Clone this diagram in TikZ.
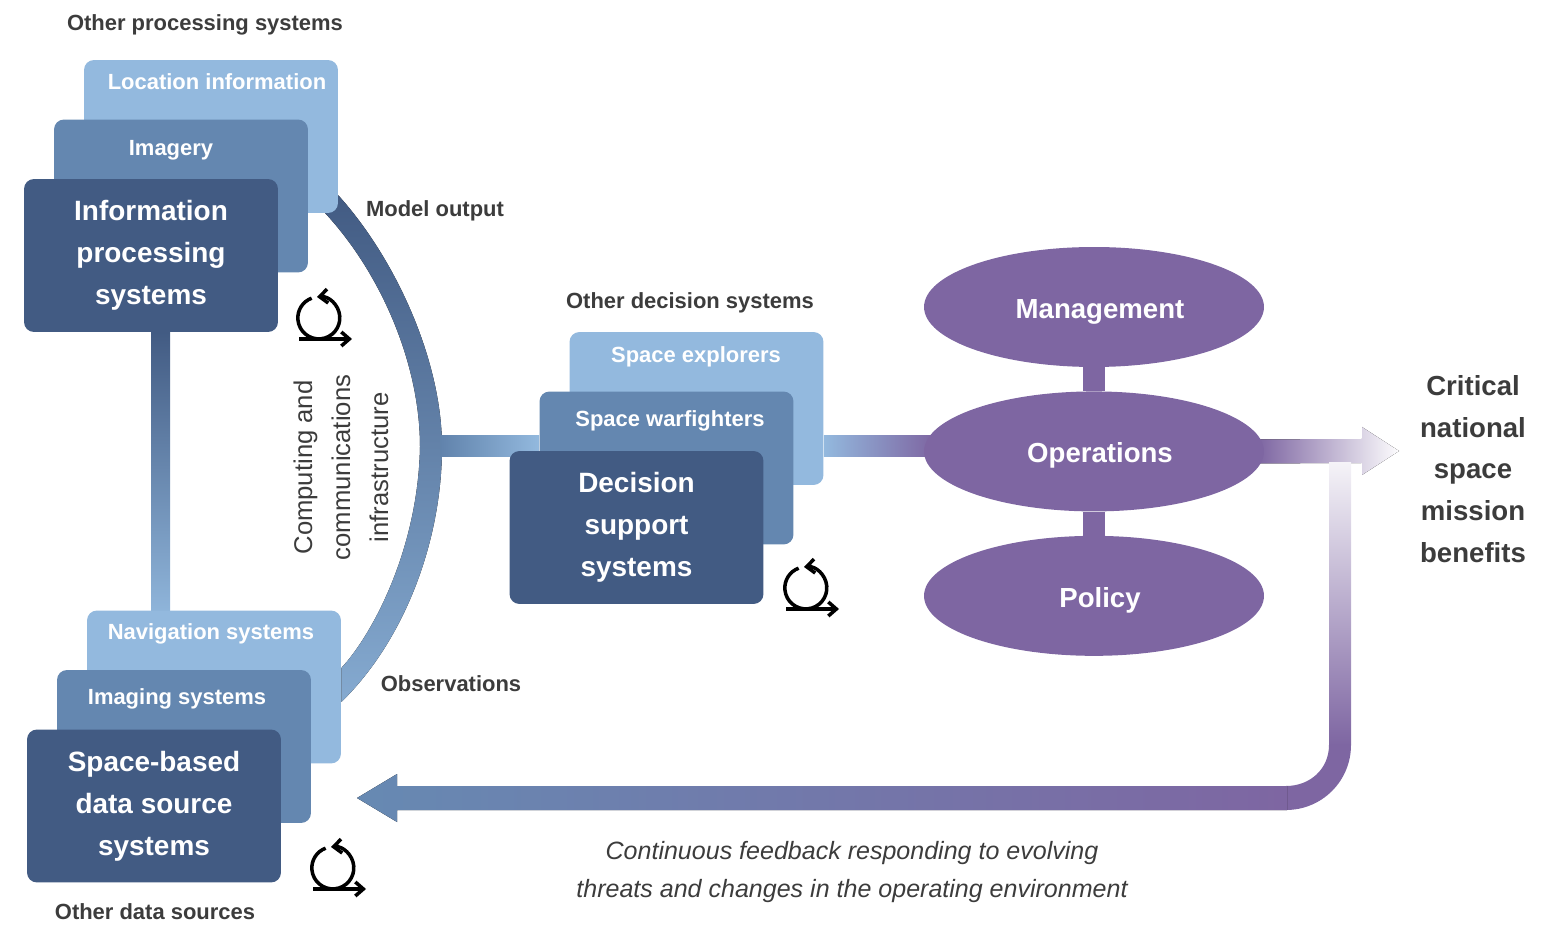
\documentclass[tikz,border=0pt]{standalone}
\usepackage{fontspec}
\setmainfont{Liberation Sans}
\usepackage{tikz}
\usetikzlibrary{arrows,arrows.meta,shapes,shapes.geometric,positioning,calc,backgrounds,shadings}
\definecolor{darkblue}{HTML}{425B83}
\definecolor{midblue}{HTML}{6487B0}
\definecolor{lightblue}{HTML}{93B9DE}
\definecolor{spacepurple}{HTML}{7E66A2}
\definecolor{labelgray}{HTML}{3C3C3C}
\tikzset{
	box/.style={rectangle,rounded corners=2mm,inner sep=0pt,minimum width=5.08cm,minimum height=3.06cm},
	light box/.style={box,fill=lightblue},
	mid box/.style={box,fill=midblue},
	dark box/.style={box,fill=darkblue,text=white,align=center,font=\fontsize{15.9}{23.8}\selectfont\bfseries},
	box text/.style={text=white,font=\fontsize{12.5}{15}\selectfont\bfseries,inner sep=0pt},
	side text/.style={text=labelgray,font=\fontsize{12.5}{15}\selectfont\bfseries,inner sep=0pt},
	role node/.style={ellipse,fill=spacepurple,text=white,inner sep=0pt,minimum width=6.8cm,minimum height=2.4cm,text height=13.1pt,text depth=0pt,execute at begin node=\hspace*{.24cm},font=\fontsize{15.7}{19}\selectfont\bfseries},
	cycleicon/.pic={
		\draw[{Straight Barb[length=1.6mm,width=2.8mm,quick]}-,line width=2pt] (-2,-21) arc[start angle=95,end angle=-250,radius=.42cm];
		\draw[-{Straight Barb[length=1.6mm,width=2.8mm]},line width=2pt] (-20,21) -- (33,21);
	}
}

\begin{document}
\begin{tikzpicture}[x=0.02cm,y=-0.02cm]
	\useasboundingbox (0,0) rectangle (1556,925);

	\node[light box] (location) at (211,136.5) {};
	\node[mid box] (imagery) at ($(location)+(-30,59.5)$) {};
	\node[dark box] (info) at ($(imagery)+(-30,59.5)$) {Information\\processing\\systems};
	\node[box text] (locationtext) at (217,82) {Location information};
	\node[box text] (imagerytext) at (171,150) {Imagery};

	\node[light box] (nav) at (214,687) {};
	\node[mid box] (imaging) at ($(nav)+(-30,59.5)$) {};
	\node[dark box] (source) at ($(imaging)+(-30,59.5)$) {Space-based\\data source\\systems};
	\node[box text] (navtext) at (211,634) {Navigation systems};
	\node[box text] (imagingtext) at (177,699) {Imaging systems};

	\node[light box] (explorers) at (696.5,408.5) {};
	\node[mid box] (warfighters) at ($(explorers)+(-30,59.5)$) {};
	\node[dark box] (decision) at ($(warfighters)+(-30,59.5)$) {Decision\\support\\systems};
	\node[box text] (explorerstext) at (696,357) {Space explorers};
	\node[box text] (warfighterstext) at (670,421) {Space warfighters};

	\node[role node] (management) at (1094,307) {Management};
	\node[role node] (operations) [below=0.475cm of management] {Operations};
	\node[role node] (policy) [below=0.475cm of operations] {Policy};

	\node[side text] (otherprocessing) at (205,25) {Other processing systems};
	\node[side text] (otherdata) at (155,912) {Other data sources};
	\node[side text] (otherdecision) at (690,303) {Other decision systems};
	\node[side text] (model) at (435,211) {Model output};
	\node[side text] (observations) at (451,684) {Observations};
	\node[text=labelgray,align=center,font=\fontsize{15.7}{23.8}\selectfont\bfseries,inner sep=0pt] (benefits) at (1473,469) {Critical\\national\\space\\mission\\benefits};
	\node[text=labelgray,align=center,rotate=90,font=\fontsize{14.6}{21.6}\selectfont,inner sep=0pt] (infrastructure) at (341,467.5) {Computing and\\communications\\infrastructure};
	\node[text=labelgray,align=center,font=\fontsize{14.25}{21.5}\selectfont\itshape,inner sep=0pt] (feedback) at (852,872) {Continuous feedback responding to evolving\\threats and changes in the operating environment};

	\coordinate (archub) at (440,436);
	\coordinate (benefitstip) at (1399,451);
	\coordinate (feedbacktip) at (357,798);
	\coordinate (feedbackcorner) at (1351,745);

	\begin{scope}[on background layer]
		\fill[top color=darkblue,bottom color=lightblue!90!midblue] (info.south) rectangle ($(nav.north)+(-44,0)$);
		\fill[top color=darkblue,bottom color=lightblue!70!midblue]
			($(location.south east)+(0,-18)$) .. controls (395,258) and (442,360) .. (442,447)
			.. controls (442,540) and (405,640) .. ($(nav.east)+(0,15)$)
			-- ($(nav.east)+(0,-19)$) .. controls (372,635) and (418,550) .. (420,447)
			.. controls (420,360) and (378,270) .. ($(location.south east)+(-13,0)$) -- cycle;
		\fill[left color=midblue!90!darkblue,right color=lightblue] (archub) rectangle ($(warfighters.west)+(0,-11.5)$);
		\fill[left color=lightblue,right color=spacepurple] ($(explorers.east)+(0,27.5)$) rectangle ($(operations.west)+(10,5)$);
		\draw[spacepurple,line width=.44cm] (management) -- (operations);
		\draw[spacepurple,line width=.44cm] (operations) -- (policy);
		\fill[left color=spacepurple,right color=spacepurple!2] ($(operations.east)+(-6,-12)$) -- ($(benefitstip)+(-37,-12)$) -- ($(benefitstip)+(-37,-24)$) -- (benefitstip) -- ($(benefitstip)+(-37,24)$) -- ($(benefitstip)+(-37,12)$) -- ($(operations.east)+(-6,12)$) -- cycle;
		\fill[top color=spacepurple!8,middle color=spacepurple!85,bottom color=spacepurple] ($(feedbackcorner)+(-22,-282)$) rectangle (feedbackcorner);
		\fill[spacepurple] (feedbackcorner) .. controls (1351,781) and (1322,810) .. (1286,810) -- (1286,786) .. controls (1310,786) and (1329,769) .. (1329,745) -- cycle;
		\fill[left color=midblue!95!lightblue,middle color=spacepurple!60!midblue,right color=spacepurple] (feedbacktip) -- ($(feedbacktip)+(40,-24)$) -- ($(feedbacktip)+(40,-12)$) -- (1287,786) -- (1287,810) -- ($(feedbacktip)+(40,12)$) -- ($(feedbacktip)+(40,24)$) -- cycle;
	\end{scope}

	\pic at (319,318) {cycleicon};
	\pic at (806,588) {cycleicon};
	\pic at (333,868) {cycleicon};
\end{tikzpicture}
\end{document}
